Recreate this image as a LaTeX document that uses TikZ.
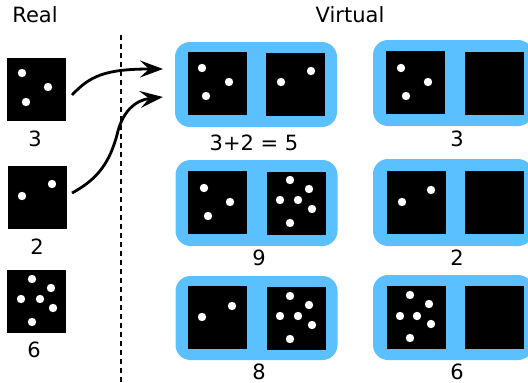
\documentclass[tikz,border=0pt]{standalone}
\usepackage{fontspec}
\setmainfont{DejaVu Sans}
\usetikzlibrary{arrows.meta}
\definecolor{vblue}{RGB}{91,192,255}
\tikzset{
  diebox/.style={fill=black,draw=none,inner sep=0pt,minimum width=59pt,minimum height=63pt},
  vbox/.style={fill=vblue,draw=none,rounded corners=15pt,inner sep=0pt},
  lbl/.style={font=\fontsize{21}{24}\selectfont,inner sep=0pt},
  pip/.style={fill=white},
  arr/.style={line width=2.8pt,-{Stealth[length=23pt,width=17pt,inset=9pt]}}
}
\newcommand{\pips}[1]{\foreach \p in {#1} \fill[pip] \p circle (4.2);}
\begin{document}
\begin{tikzpicture}[x=1pt,y=-1pt]
\useasboundingbox (0,0) rectangle (528,383);
% headings
\node[lbl] (real) at (35,15) {Real};
\node[lbl] (virt) at (350,15) {Virtual};
% divider
\coordinate (dtop) at (121,35);
\coordinate (dbot) at (121,383);
\draw[line width=1.4pt,dash pattern=on 5pt off 4pt] (dtop) -- (dbot);
% real dice
\node[diebox] (r3) at (36.5,89.5) {};
\pips{(22,73),(48,87),(26,102)}
\node[lbl] (l3) at (35,139) {3};
\node[diebox] (r2) at (37.5,197.5) {};
\pips{(22,196),(52,184)}
\node[lbl] (l2) at (37,247) {2};
\node[diebox] (r6) at (36.5,301.5) {};
\pips{(32,279),(51,288),(21,299),(40,299),(53,308),(32,322)}
\node[lbl] (l6) at (34,350) {6};
% virtual boxes
\node[vbox,minimum width=162pt,minimum height=85pt] (b1) at (256,84.5) {};
\node[vbox,minimum width=162pt,minimum height=86pt] (b2) at (256.5,203) {};
\node[vbox,minimum width=162pt,minimum height=84pt] (b3) at (256.5,318) {};
\node[vbox,minimum width=160pt,minimum height=86pt] (c1) at (453,83) {};
\node[vbox,minimum width=160pt,minimum height=87pt] (c2) at (453,202.5) {};
\node[vbox,minimum width=160pt,minimum height=85pt] (c3) at (453,317.5) {};
% dice in boxes, row 1
\node[diebox] (b1a) at (217.5,83.5) {};
\pips{(202,68),(229,82),(206,96)}
\node[diebox] (b1b) at (295.5,84.5) {};
\pips{(281,82),(311,71)}
\node[lbl] (lb1) at (254,143) {3+2 = 5};
\node[diebox] (c1a) at (415.5,82.5) {};
\pips{(401,68),(428,82),(406,96)}
\node[diebox] (c1b) at (494.5,83.5) {};
\node[lbl] (lc1) at (457,139) {3};
% row 2
\node[diebox] (b2a) at (217.5,202.5) {};
\pips{(204,188),(230,202),(208,216)}
\node[diebox] (b2b) at (296.5,203.5) {};
\pips{(290,180),(309,189),(280,200),(298,200),(312,209),(290,223)}
\node[lbl] (lb2) at (259,258) {9};
\node[diebox] (c2a) at (416.5,202.5) {};
\pips{(402,202),(431,190)}
\node[diebox] (c2b) at (494.5,202.5) {};
\node[lbl] (lc2) at (457,258) {2};
% row 3
\node[diebox] (b3a) at (217.5,317.5) {};
\pips{(202,317),(232,306)}
\node[diebox] (b3b) at (296.5,318.5) {};
\pips{(290,296),(309,305),(280,316),(298,316),(312,325),(290,339)}
\node[lbl] (lb3) at (259,372) {8};
\node[diebox] (c3a) at (416.5,317.5) {};
\pips{(410,295),(429,304),(400,316),(417,316),(431,324),(410,338)}
\node[diebox] (c3b) at (494.5,317.5) {};
\node[lbl] (lc3) at (457,372) {6};
% arrows
\coordinate (a1s) at (72,95);
\coordinate (a1e) at (163,69);
\coordinate (a2s) at (72,193);
\coordinate (a2m) at (117,135);
\coordinate (a2e) at (163,97);
\draw[arr] (a1s) .. controls (90,76) and (105,69) .. (a1e);
\draw[arr] (a2s) .. controls (100,178) and (110,160) .. (a2m) .. controls (122,112) and (135,100) .. (a2e);
\end{tikzpicture}
\end{document}
